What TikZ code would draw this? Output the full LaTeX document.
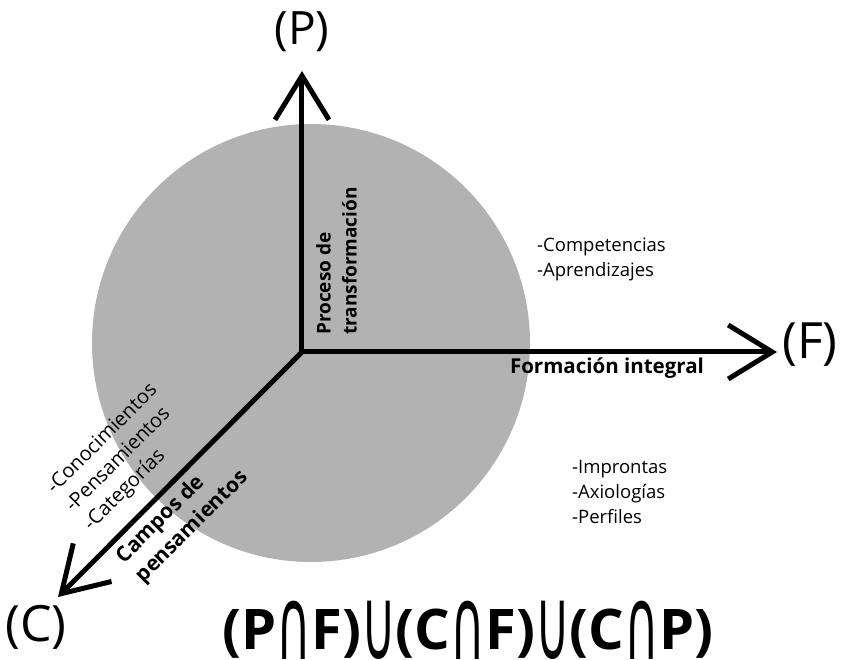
\documentclass[tikz,border=0pt]{standalone}
\usepackage{fontspec}
\setmainfont{Open Sans}
\newfontfamily\symbfont{DejaVu Sans}
\usepackage{graphicx}
\usetikzlibrary{arrows.meta}

\newcommand{\capsym}{\raisebox{-9.5pt}{\scalebox{0.85}[1.8]{\symbfont\mdseries ∩}}}
\newcommand{\cupsym}{\raisebox{-9.5pt}{\scalebox{0.85}[1.8]{\symbfont\mdseries ∪}}}

\begin{document}
\begin{tikzpicture}[x=1pt,y=1pt,
        axis/.style={line width=5pt, -{Straight Barb[length=44pt,width=54pt]}},
        axislbl/.style={font=\fontsize{50}{54}\selectfont, inner sep=0pt},
        boldlbl/.style={font=\fontsize{19}{26}\selectfont\bfseries, align=left, inner sep=0pt},
        itemlbl/.style={font=\fontsize{18.5}{25}\selectfont, align=left, inner sep=0pt}]
        \useasboundingbox (-302,-308) rectangle (547,352);

        % sphere
        \fill[black!30] (9,9) circle (219);

        % axes
        \coordinate (O) at (0,0);
        \coordinate (Ptip) at (0,281);
        \coordinate (Ftip) at (475,0);
        \coordinate (Ctip) at (-244,-245);
        \draw[axis] (O) -- (Ptip);
        \draw[axis] (O) -- (Ftip);
        \draw[axis] (O) -- (Ctip);

        \node[axislbl, font=\fontsize{46}{50}\selectfont] (P) at (0,320) {(P)};
        \node[axislbl] (F) at (508,7) {(F)};
        \node[axislbl] (C) at (-266,-275) {(C)};

        % axis names
        \node[boldlbl, rotate=90, anchor=north west] (proceso) at (14,17) {Proceso de\\transformación};
        \node[boldlbl, font=\fontsize{20.5}{26}\selectfont\bfseries] (formacion) at (305,-16) {Formación integral};
        \node[boldlbl, rotate=45, anchor=north west, font=\fontsize{21}{27}\selectfont\bfseries] (campos) at (-189,-201) {Campos de\\pensamientos};

        % items
        \node[itemlbl, anchor=west] (compet) at (235,93) {-Competencias\\-Aprendizajes};
        \node[itemlbl, anchor=west] (impron) at (270,-140) {-Improntas\\-Axiologías\\-Perfiles};
        \node[itemlbl, rotate=45, anchor=north west, font=\fontsize{20}{26}\selectfont] (conoc) at (-258,-132) {-Conocimientos\\-Pensamientos\\-Categorías};

        % formula
        \node[font=\fontsize{56}{62}\selectfont\bfseries, inner sep=0pt, anchor=base] (union) at (166,-298)
            {(P\capsym F)\cupsym(C\capsym F)\cupsym(C\capsym P)};
\end{tikzpicture}
\end{document}
